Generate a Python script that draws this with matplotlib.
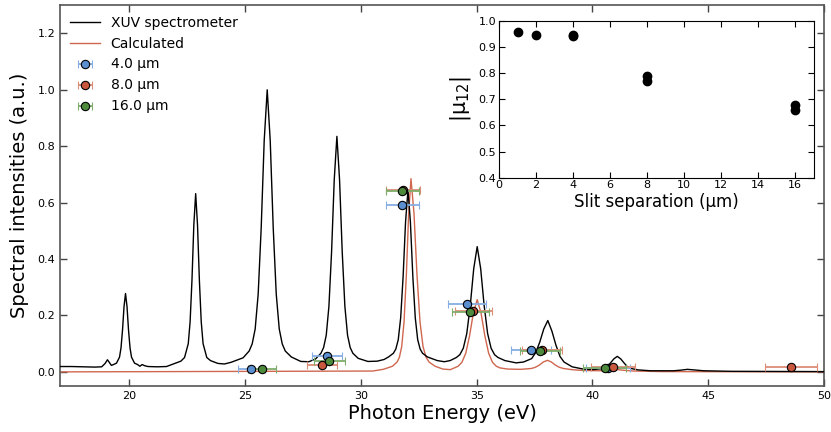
import matplotlib
matplotlib.use("Agg")
import matplotlib.pyplot as plt

plt.rcParams['font.family'] = ['DejaVu Sans']
plt.rcParams['mathtext.fontset'] = 'dejavusans'

# ---------------- data ----------------
xuv_E = [17.0, 17.5, 18.0, 18.5, 18.8, 18.95, 19.05, 19.12, 19.22,
         19.31, 19.44, 19.57, 19.635, 19.70, 19.765, 19.83, 19.895, 19.96, 20.025, 20.09, 20.22,
         20.35, 20.45, 20.55, 20.65, 20.8, 21.2, 21.6,
         21.90, 22.22, 22.38, 22.54, 22.62, 22.70, 22.78, 22.86, 22.94, 23.02, 23.10, 23.18,
         23.34, 23.50, 23.82, 24.1,
         24.39, 24.91, 25.17, 25.30, 25.43, 25.56, 25.69, 25.82, 25.95, 26.08, 26.21, 26.34,
         26.47, 26.60, 26.73, 26.99, 27.4, 27.75,
         28.04, 28.27, 28.385, 28.50, 28.615, 28.73, 28.845, 28.96, 29.075, 29.19, 29.305,
         29.42, 29.535, 29.65, 29.88, 30.3, 30.7,
         31.0, 31.19, 31.40, 31.505, 31.61, 31.715, 31.82, 31.925, 32.03, 32.135, 32.24, 32.345,
         32.45, 32.555, 32.66, 32.87, 33.3, 33.6,
         33.85, 34.12, 34.27, 34.42, 34.57, 34.72, 34.87, 35.02, 35.17, 35.32, 35.47, 35.62,
         35.77, 35.92, 36.22, 36.7,
         37.02, 37.37, 37.545, 37.72, 37.895, 38.07, 38.245, 38.42, 38.595, 38.77, 39.12, 39.6,
         40.0, 40.47, 40.62, 40.77, 40.92, 41.07, 41.22, 41.37, 41.52, 41.67, 41.97, 42.5,
         43.5, 43.8, 44.1, 44.4, 44.8, 46.0, 50.0]
xuv_I = [0.019, 0.019, 0.018, 0.017, 0.018, 0.030, 0.043, 0.035, 0.023,
         0.026, 0.031, 0.052, 0.085, 0.148, 0.231, 0.278, 0.231, 0.148, 0.085, 0.052, 0.031,
         0.026, 0.020, 0.026, 0.022, 0.019, 0.018, 0.019,
         0.028, 0.038, 0.051, 0.100, 0.178, 0.325, 0.520, 0.632, 0.520, 0.325, 0.178, 0.100,
         0.051, 0.040, 0.030, 0.028,
         0.034, 0.050, 0.074, 0.099, 0.152, 0.276, 0.510, 0.820, 1.000, 0.820, 0.510, 0.276,
         0.152, 0.099, 0.074, 0.053, 0.037, 0.036,
         0.046, 0.066, 0.086, 0.130, 0.232, 0.425, 0.681, 0.835, 0.681, 0.425, 0.232,
         0.130, 0.086, 0.066, 0.048, 0.037, 0.038,
         0.044, 0.053, 0.066, 0.081, 0.114, 0.192, 0.338, 0.531, 0.645, 0.531, 0.338, 0.192,
         0.114, 0.081, 0.066, 0.053, 0.040, 0.036,
         0.040, 0.051, 0.061, 0.084, 0.136, 0.235, 0.366, 0.444, 0.366, 0.235, 0.136, 0.084,
         0.061, 0.051, 0.040, 0.032,
         0.035, 0.047, 0.068, 0.105, 0.152, 0.182, 0.145, 0.095, 0.055, 0.035, 0.018, 0.010,
         0.008, 0.012, 0.017, 0.031, 0.046, 0.055, 0.046, 0.031, 0.017, 0.012, 0.007, 0.004,
         0.004, 0.006, 0.009, 0.007, 0.004, 0.002, 0.001]

calc_E = [17.0, 30.5, 30.96, 31.36, 31.56, 31.66, 31.76, 31.86, 31.96, 32.06, 32.16, 32.29,
          32.42, 32.55, 32.68, 32.81, 32.94, 33.2, 33.54, 33.86,
          34.03, 34.195, 34.36, 34.525, 34.69, 34.855, 35.02, 35.185, 35.35, 35.515, 35.68,
          35.845, 36.01, 36.34, 36.9,
          37.35, 37.525, 37.7, 37.875, 38.05, 38.225, 38.4, 38.575, 38.75, 39.1, 39.6, 40.3,
          40.7, 41.0, 41.3, 41.8, 43.0, 50.0]
calc_I = [0.0, 0.003, 0.009, 0.020, 0.035, 0.052, 0.090, 0.177, 0.343, 0.562, 0.685, 0.562,
          0.343, 0.177, 0.090, 0.052, 0.035, 0.020, 0.010, 0.008,
          0.014, 0.020, 0.034, 0.066, 0.128, 0.209, 0.256, 0.209, 0.128, 0.066, 0.034,
          0.020, 0.014, 0.010, 0.009,
          0.012, 0.016, 0.024, 0.035, 0.041, 0.035, 0.024, 0.016, 0.012, 0.008, 0.005, 0.004,
          0.006, 0.009, 0.006, 0.003, 0.001, 0.0]

e_4um = [25.26, 28.53, 31.79, 34.58, 37.36, 40.66]
i_4um = [0.012, 0.057, 0.593, 0.239, 0.079, 0.015]
xerr_4um = [0.58, 0.65, 0.73, 0.80, 0.86, 0.94]

e_8um = [28.30, 31.80, 34.84, 37.81, 40.88, 48.56]
i_8um = [0.025, 0.645, 0.215, 0.076, 0.018, 0.017]
xerr_8um = [0.65, 0.73, 0.80, 0.87, 0.94, 1.12]

e_16um = [25.73, 28.64, 31.79, 34.73, 37.72, 40.53]
i_16um = [0.012, 0.039, 0.642, 0.213, 0.073, 0.014]
xerr_16um = [0.59, 0.66, 0.73, 0.80, 0.87, 0.93]

slit_sep = [1, 2, 4, 4, 8, 8, 16, 16]
mu12 = [0.956, 0.946, 0.947, 0.943, 0.788, 0.772, 0.679, 0.659]

# ---------------- figure ----------------
fig = plt.figure(figsize=(8.31, 4.32), dpi=100)
ax = fig.add_axes([0.0722, 0.1065, 0.9194, 0.8815])

ax.plot(xuv_E, xuv_I, color='black', lw=1.0, label='XUV spectrometer', zorder=3)
ax.plot(calc_E, calc_I, color='#D0674F', lw=1.0, label='Calculated', zorder=2)

series = [
    (e_4um, i_4um, xerr_4um, '#5B8FD0', '#86AEE3', '4.0 μm'),
    (e_8um, i_8um, xerr_8um, '#C9573E', '#DC8E76', '8.0 μm'),
    (e_16um, i_16um, xerr_16um, '#4E8A3C', '#7FAD6A', '16.0 μm'),
]
for e, i, xe, fc, ec, lab in series:
    ax.errorbar(e, i, xerr=xe, fmt='o', ms=6, mfc=fc, mec='black', mew=0.8,
                ecolor=ec, elinewidth=1.3, capsize=3, capthick=1.3, label=lab, zorder=5)

ax.set_xlim(17, 50)
ax.set_ylim(-0.05, 1.3)
ax.set_xticks([20, 25, 30, 35, 40, 45, 50])
ax.set_yticks([0.0, 0.2, 0.4, 0.6, 0.8, 1.0, 1.2])
ax.set_yticklabels(['0.0', '0.2', '0.4', '0.6', '0.8', '1.0', '1.2'])
ax.tick_params(direction='in', top=True, right=True, labelsize=8, length=5, width=1,
               color='#444444')
for s in ax.spines.values():
    s.set_color('#555555')
    s.set_linewidth(1.2)
ax.set_xlabel('Photon Energy (eV)', fontsize=14, labelpad=2)
ax.set_ylabel('Spectral intensities (a.u.)', fontsize=14, labelpad=6)

leg = ax.legend(loc='upper left', frameon=False, fontsize=10, handlelength=2.1,
                borderaxespad=0.35, labelspacing=0.5, handletextpad=0.8, numpoints=1)

# inset
ins = fig.add_axes([0.6005, 0.5887, 0.3785, 0.3627])
ins.plot(slit_sep, mu12, 'o', color='black', ms=6, mec='black')
ins.set_xlim(0, 17)
ins.set_ylim(0.4, 1.0)
ins.set_xticks(range(0, 17, 2))
ins.set_yticks([0.4, 0.5, 0.6, 0.7, 0.8, 0.9, 1.0])
ins.tick_params(direction='in', top=True, right=True, labelsize=8, length=4, pad=2)
ins.set_xlabel('Slit separation (μm)', fontsize=12, labelpad=2)
ins.set_ylabel(r'$|\mathrm{\mu}_{12}|$', fontsize=15, labelpad=4)

fig.savefig('out.png', dpi=100)
